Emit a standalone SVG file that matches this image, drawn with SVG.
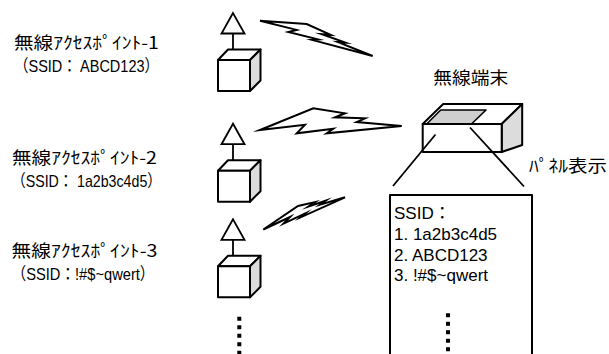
<svg xmlns="http://www.w3.org/2000/svg" width="609" height="354" viewBox="0 0 609 354">
  <style>
    .bg { fill: #ffffff; }
    .jp { font-family: "Noto Sans CJK JP", "Noto Sans CJK SC", sans-serif; font-size: 17px; fill: #000; }
    .lat { font-family: "Liberation Sans", "Noto Sans CJK JP", sans-serif; font-size: 17px; fill: #000; }
    .panel-txt { font-family: "Liberation Sans", "Noto Sans CJK JP", sans-serif; font-size: 17px; fill: #000; }
    .edge { fill: #ffffff; stroke: #000; stroke-width: 2; stroke-linejoin: round; }
    .shade { fill: #dcdcdc; stroke: #000; stroke-width: 2; stroke-linejoin: round; }
    .screen { fill: #cfcfcf; stroke: #000; stroke-width: 1.6; stroke-linejoin: round; }
    .ant { fill: #ffffff; stroke: #000; stroke-width: 1.8; stroke-linejoin: miter; }
    .stem { stroke: #000; stroke-width: 1.8; }
    .bolt { fill: none; stroke: #000; stroke-width: 2; stroke-linejoin: miter; stroke-miterlimit: 8; }
    .lead { stroke: #000; stroke-width: 1.8; fill: none; }
    .dots { stroke: #000; stroke-width: 4; stroke-dasharray: 4 4.5; fill: none; }
  </style>
  <defs>
    <!-- access point: antenna on top of a small cube -->
    <g id="ap-shape">
      <line class="stem" x1="233" y1="33.5" x2="233" y2="50"/>
      <polygon class="ant" points="233,13 221.5,33.5 244.5,33.5"/>
      <polygon class="edge" points="218,60 228,49.5 260.5,49.5 250,60"/>
      <polygon class="shade" points="250,60 260.5,49.5 260.5,80.5 250,91"/>
      <rect class="edge" x="218" y="60" width="32" height="31"/>
    </g>
  </defs>
  <rect class="bg" x="0" y="0" width="609" height="354"/>

  <!-- access point 1 -->
  <g id="ap1">
    <use href="#ap-shape"/>
    <text class="jp" x="14" y="49" textLength="145" lengthAdjust="spacingAndGlyphs">無線ｱｸｾｽﾎﾟｲﾝﾄ-1</text>
    <text class="lat" x="14" y="72" textLength="145" lengthAdjust="spacingAndGlyphs">（SSID： ABCD123）</text>
  </g>

  <!-- access point 2 -->
  <g id="ap2">
    <use href="#ap-shape" transform="translate(0,110.7)"/>
    <text class="jp" x="12" y="163.5" textLength="145" lengthAdjust="spacingAndGlyphs">無線ｱｸｾｽﾎﾟｲﾝﾄ-2</text>
    <text class="lat" x="11.5" y="187" textLength="150" lengthAdjust="spacingAndGlyphs">（SSID： 1a2b3c4d5）</text>
  </g>

  <!-- access point 3 -->
  <g id="ap3">
    <use href="#ap-shape" transform="translate(0,206.3)"/>
    <text class="jp" x="11.5" y="256.5" textLength="146" lengthAdjust="spacingAndGlyphs">無線ｱｸｾｽﾎﾟｲﾝﾄ-3</text>
    <text class="lat" x="11.5" y="280" textLength="143" lengthAdjust="spacingAndGlyphs">（SSID：!#$~qwert）</text>
  </g>

  <!-- further access points -->
  <g id="ap-more">
    <line class="dots" x1="239.3" y1="316.7" x2="239.3" y2="354"/>
  </g>

  <!-- wireless terminal -->
  <g id="terminal">
    <text class="jp" x="433.3" y="84" textLength="75" lengthAdjust="spacingAndGlyphs">無線端末</text>
    <polygon class="edge" points="422.7,124 443.2,104 522.2,104 501.7,124"/>
    <polygon class="screen" points="426.7,124 440.7,110 486,110 471.5,124"/>
    <polygon class="shade" points="501.7,124 522.2,104 522.2,145 501.7,152"/>
    <rect class="edge" x="422.7" y="124" width="79" height="28"/>
  </g>

  <!-- panel display -->
  <g id="panel">
    <text class="jp" x="529" y="172" font-size="16" textLength="78" lengthAdjust="spacingAndGlyphs">ﾊﾟﾈﾙ表示</text>
    <rect class="edge" x="390" y="195" width="142" height="175"/>
    <text class="panel-txt" x="394" y="218.5">SSID：</text>
    <text class="panel-txt" x="394" y="239.5">1. 1a2b3c4d5</text>
    <text class="panel-txt" x="394" y="260.5">2. ABCD123</text>
    <text class="panel-txt" x="394" y="281">3. !#$~qwert</text>
    <line class="dots" x1="448" y1="313.3" x2="448" y2="354"/>
  </g>

  <!-- connectors: radio links and zoom-out leaders -->
  <g id="connectors">
    <polygon class="bolt" points="260,20.7 306.7,24 330.65,34.8 321.9,34.2 345.4,42.6 338,42.2 372.7,56 311.9,39.9 318.1,39.4 288.3,32 296.6,29.9"/>
    <polygon class="bolt" points="260,130 313.3,108.3 345,113.3 335,117.3 365,118.3 356.7,122 401.7,126 326.7,133.3 333.3,128.7 296.7,133.3 305,124.7"/>
    <polygon class="bolt" points="263.3,229.5 298,206 315.1,202.1 308.6,206.5 325.6,200.7 320.1,204.6 345,197.3 300.7,217.3 305.4,213.3 283.6,223.6 290,217"/>
    <line class="lead" x1="435.5" y1="134.5" x2="393" y2="186"/>
    <line class="lead" x1="470" y1="127.5" x2="524" y2="186.5"/>
  </g>
</svg>
